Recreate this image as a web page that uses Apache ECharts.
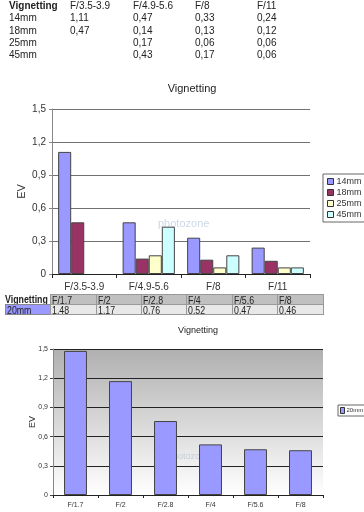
<!DOCTYPE html>
<html><head><meta charset="utf-8">
<script src="https://cdn.jsdelivr.net/npm/echarts@6/dist/echarts.min.js"></script>
<style>
html,body{margin:0;padding:0;background:#fff;width:364px;height:512px;overflow:hidden}
#chart{position:absolute;left:0;top:0;width:364px;height:512px}
.t1{position:absolute;font-family:'Liberation Sans',Arial,sans-serif;font-size:10px;color:#222;white-space:nowrap;line-height:12px}
.t2{position:absolute;font-family:'Liberation Sans',Arial,sans-serif;font-size:11px;color:#222;white-space:nowrap;box-sizing:border-box;line-height:10px;padding-left:1px;overflow:hidden}
.t2 span{display:inline-block;transform:scaleX(0.8);transform-origin:0 0}
</style></head>
<body>
<div id="chart"></div>
<div id="tables"></div>
<script>
// ---- data ----
var cats1 = ['F/3.5-3.9', 'F/4.9-5.6', 'F/8', 'F/11'];
var lens1 = ['14mm', '18mm', '25mm', '45mm'];
var v14 = [1.11, 0.47, 0.33, 0.24];
var v18 = [0.47, 0.14, 0.13, 0.12];
var v25 = [null, 0.17, 0.06, 0.06];
var v45 = [null, 0.43, 0.17, 0.06];
var cats2 = ['F/1.7', 'F/2', 'F/2.8', 'F/4', 'F/5.6', 'F/8'];
var v20 = [1.48, 1.17, 0.76, 0.52, 0.47, 0.46];

function fmt(v){ return v == null ? '' : String(v).replace('.', ','); }
function fmt2(v){ return v == null ? '' : v.toFixed(2).replace('.', ','); }

// ---- HTML tables ----
var tb = document.getElementById('tables');
function add(cls, txt, x, y, extra){
  var d = document.createElement('div');
  d.className = cls;
  if (cls === 't2') { var s = document.createElement('span'); s.textContent = txt; d.appendChild(s); }
  else d.textContent = txt;
  d.style.left = x + 'px'; d.style.top = y + 'px';
  if (extra) for (var k in extra) d.style[k] = extra[k];
  tb.appendChild(d);
}
var colX = [70, 133, 195, 257];
var rowY = [0, 12.3, 24.6, 36.9, 49.2];
add('t1', 'Vignetting', 9, rowY[0], {fontWeight:'bold'});
cats1.forEach(function(c,i){ add('t1', c, colX[i], rowY[0]); });
var vals1 = [v14, v18, v25, v45];
lens1.forEach(function(l,r){
  add('t1', l, 9, rowY[r+1]);
  vals1[r].forEach(function(v,i){ add('t1', fmt2(v), colX[i], rowY[r+1]); });
});

var bx = [50, 96, 141, 186, 232, 277, 323];
add('t2', 'Vignetting', 5, 294, {width:'45px', height:'11px', fontWeight:'bold', paddingLeft:'0px'});
add('t2', '20mm', 5, 304, {width:'46px', height:'11px', background:'#9999ff', border:'1px solid #888'});
cats2.forEach(function(c,i){
  add('t2', c, bx[i], 294, {width:(bx[i+1]-bx[i]+1)+'px', height:'11px', background:'#c0c0c0', border:'1px solid #999'});
  add('t2', fmt2(v20[i]), bx[i], 304, {width:(bx[i+1]-bx[i]+1)+'px', height:'11px', background:'#e8e8e8', border:'1px solid #999'});
});

// ---- chart ----
var ch = echarts.init(document.getElementById('chart'), null, {renderer:'canvas'});
var font = "'Liberation Sans', Arial, sans-serif";
var colors1 = ['#9999ff', '#993366', '#ffffcc', '#ccffff'];
var data1 = [v14, v18, v25, v45];
var series = lens1.map(function(n,i){
  return {name:n, type:'bar', xAxisIndex:0, yAxisIndex:0, data:data1[i],
    barGap:'0%', barCategoryGap:'19%',
    itemStyle:{color:colors1[i], borderColor:'#444', borderWidth:1}, emphasis:{disabled:true}};
});
series.push({name:'20mm', type:'bar', xAxisIndex:1, yAxisIndex:1, data:v20,
  barCategoryGap:'49%', itemStyle:{color:'#9999ff', borderColor:'#444', borderWidth:1}, emphasis:{disabled:true}});

ch.setOption({
  animation:false,
  textStyle:{fontFamily:font},
  title:[
    {text:'Vignetting', left:187, top:78, textAlign:'center', textStyle:{fontSize:11, fontWeight:'normal', color:'#222', fontFamily:font}},
    {text:'Vignetting', left:193, top:321, textAlign:'center', textStyle:{fontSize:9, fontWeight:'normal', color:'#222', fontFamily:font}}
  ],
  graphic:[
    {type:'text', left:158, top:218, style:{text:'photozone', fill:'#ccd8e6', font:'11px '+font}, z:0},
    {type:'text', left:168, top:452, style:{text:'photozone', fill:'#c4cedb', font:'9px '+font}, z:0}
  ],
  legend:[
    {data:lens1, orient:'vertical', left:323, top:174, padding:[3,4,3,4], itemGap:2, itemWidth:6, itemHeight:6,
     icon:'rect', borderColor:'#666', borderWidth:1, textStyle:{fontSize:9, color:'#333', padding:[0,0,0,-2]},
     itemStyle:{borderColor:'#333', borderWidth:1}},
    {data:['20mm'], orient:'vertical', left:338, top:405, padding:[2,2,2,2], itemWidth:4, itemHeight:6,
     icon:'rect', borderColor:'#666', borderWidth:1, textStyle:{fontSize:6, color:'#333', padding:[0,0,0,-3]},
     itemStyle:{borderColor:'#333', borderWidth:1}}
  ],
  grid:[
    {left:52, top:109, width:258, height:165},
    {left:53, top:349, width:270, height:146, show:true, borderWidth:0,
     backgroundColor:{type:'linear', x:0, y:0, x2:0, y2:1, colorStops:[{offset:0, color:'#b0b0b0'},{offset:1, color:'#ffffff'}]}}
  ],
  xAxis:[
    {type:'category', gridIndex:0, data:cats1, axisLine:{lineStyle:{color:'#222'}},
     axisTick:{show:true, length:4, lineStyle:{color:'#222'}}, axisLabel:{fontSize:10, color:'#333', margin:8}},
    {type:'category', gridIndex:1, data:cats2, axisLine:{lineStyle:{color:'#222'}},
     axisTick:{show:true, length:3, lineStyle:{color:'#222'}}, axisLabel:{fontSize:7, color:'#333', margin:7}}
  ],
  yAxis:[
    {type:'value', gridIndex:0, min:0, max:1.5, interval:0.3, name:'EV', nameLocation:'middle', nameGap:25, nameRotate:90,
     nameMoveOverlap:false, nameTextStyle:{fontSize:11, color:'#333'},
     axisLine:{show:true, lineStyle:{color:'#888'}}, axisTick:{show:true, length:3, lineStyle:{color:'#888'}},
     splitLine:{lineStyle:{color:'#707070'}}, axisLabel:{fontSize:10, color:'#333', margin:6, formatter:function(v){return fmt(+v.toFixed(1));}}},
    {type:'value', gridIndex:1, min:0, max:1.5, interval:0.3, name:'EV', nameLocation:'middle', nameGap:16, nameRotate:90,
     nameMoveOverlap:false, nameTextStyle:{fontSize:9, color:'#333'},
     axisLine:{show:true, lineStyle:{color:'#888'}}, axisTick:{show:true, length:3, lineStyle:{color:'#444'}},
     splitLine:{lineStyle:{color:'#222'}}, axisLabel:{fontSize:7, color:'#333', margin:5, formatter:function(v){return fmt(+v.toFixed(1));}}}
  ],
  series:series
});
</script>
</body></html>
